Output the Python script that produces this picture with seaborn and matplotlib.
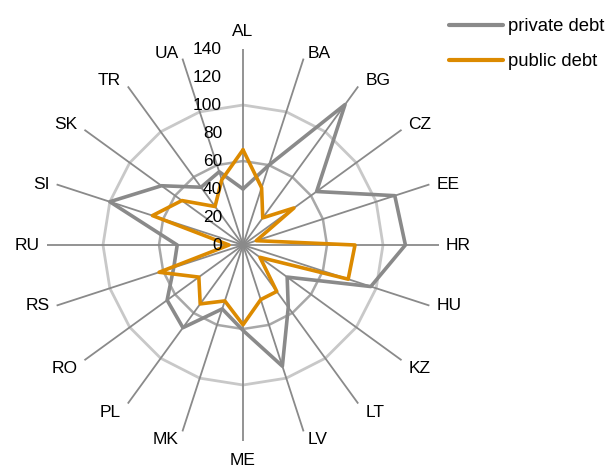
import numpy as np
import pandas as pd
import matplotlib
matplotlib.use("Agg")
import matplotlib.pyplot as plt
import matplotlib.transforms as mtransforms
from matplotlib.lines import Line2D
import seaborn as sns

categories = ["AL", "BA", "BG", "CZ", "EE", "HR", "HU", "KZ", "LT", "LV",
              "ME", "MK", "PL", "RO", "RS", "RU", "SI", "SK", "TR", "UA"]
private_debt = [40, 60, 124, 65, 114, 116, 96, 39, 55, 91,
                61, 48, 73, 67, 52, 47, 100, 72, 51, 55]
public_debt = [68, 43, 24, 45, 10, 80, 79, 15, 41, 41,
               57, 42, 52, 39, 63, 10, 68, 54, 34, 49]
series_names = ["private debt", "public debt"]
r_ticks = [0, 20, 40, 60, 80, 100, 120, 140]

sns.set_theme(style="white")
plt.rcParams["font.family"] = ["Liberation Sans", "DejaVu Sans"]
plt.rcParams["text.color"] = "black"

GRAY = "#8a8a8a"
ORANGE = "#dc8a00"
FS = 12.5
PX = 0.72  # points per pixel at 100 dpi

n = len(categories)
theta = np.arange(n) * 2 * np.pi / n
theta_c = np.append(theta, 2 * np.pi)

rows = []
for name, vals in zip(series_names, [private_debt, public_debt]):
    vc = list(vals) + [vals[0]]
    for t, v in zip(theta_c, vc):
        rows.append({"theta": t, "value": v, "series": name})
df = pd.DataFrame(rows)

fig = plt.figure(figsize=(6.05, 4.67), dpi=100)
W, H = 605, 467
cx, cy, R = 243, 245, 196
ax = fig.add_axes([(cx - R) / W, (H - cy - R) / H, 2 * R / W, 2 * R / H], polar=True)
ax.set_theta_zero_location("N")
ax.set_theta_direction(-1)
ax.set_ylim(0, 140)
ax.grid(False)
ax.spines["polar"].set_visible(False)
ax.set_xticks([])
ax.set_yticks([])
ax.patch.set_alpha(0)

# rings
ax.plot(theta_c, [100] * (n + 1), color="#c8c8c8", lw=2.0, zorder=1)
ax.plot(theta_c, [60] * (n + 1), color="#a8a8a8", lw=1.8, zorder=1)
# spokes
for t in theta:
    ax.plot([t, t], [0, 140], color=GRAY, lw=1.3, zorder=1.5)

sns.lineplot(data=df, x="theta", y="value", hue="series", sort=False,
             palette={"private debt": GRAY, "public debt": ORANGE},
             linewidth=2.6, ax=ax, legend=False, zorder=3)
ax.set_xlabel("")
ax.set_ylabel("")
ax.set_ylim(0, 140)

# radial tick labels
off = mtransforms.ScaledTranslation(-21 / 100, 0, fig.dpi_scale_trans)
for v in r_ticks:
    ax.text(0, v, str(v), transform=ax.transData + off, ha="right", va="center",
            fontsize=FS, color="black", zorder=5)

# category labels, placed just outside the end of each spoke
for t, c in zip(theta, categories):
    s, co = np.sin(t), np.cos(t)
    gap = 4 if abs(s) < 0.35 else 7
    if abs(s) < 0.1:
        ha, dx = "center", 0
    elif s > 0:
        ha, dx = "left", gap
    else:
        ha, dx = "right", -gap
    if abs(co) < 0.4:
        va, dy = "center", 0
    elif co > 0:
        va, dy = "baseline", (13 if ha == "center" else 1)
    else:
        va, dy = "top", (-12 if ha == "center" else -1)
    ax.annotate(c, xy=(t, 140), xytext=(dx * PX, dy * PX), textcoords="offset points",
                ha=ha, va=va, fontsize=FS, color="black", annotation_clip=False)

handles = [Line2D([], [], color=GRAY, lw=3), Line2D([], [], color=ORANGE, lw=3)]
leg = fig.legend(handles, series_names, loc="upper left", bbox_to_anchor=(449 / W, 1 - 18 / H),
                 frameon=False, fontsize=13.3, handlelength=2.92, handletextpad=0.27,
                 labelspacing=1.0, borderaxespad=0, borderpad=0)
for txt in leg.get_texts():
    txt.set_color("black")

fig.savefig("out.png", dpi=100)
